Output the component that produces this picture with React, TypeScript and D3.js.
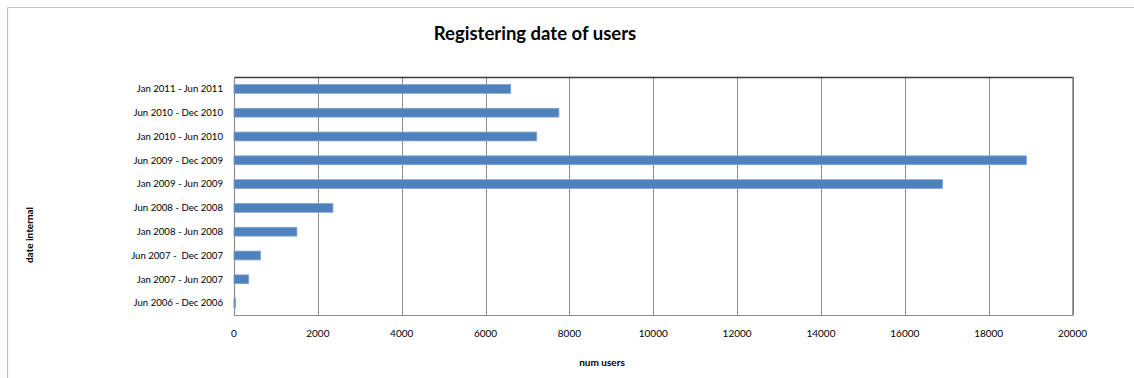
import React from "react";
import * as d3 from "d3";

const categories = [
  "Jan 2011 - Jun 2011",
  "Jun 2010 - Dec 2010",
  "Jan 2010 - Jun 2010",
  "Jun 2009 - Dec 2009",
  "Jan 2009 - Jun 2009",
  "Jun 2008 - Dec 2008",
  "Jan 2008 - Jun 2008",
  "Jun 2007 -  Dec 2007",
  "Jan 2007 - Jun 2007",
  "Jun 2006 - Dec 2006",
];
const values = [6600, 7750, 7220, 18900, 16900, 2360, 1500, 630, 350, 40];
const xTicks = [0, 2000, 4000, 6000, 8000, 10000, 12000, 14000, 16000, 18000, 20000];
const title = "Registering date of users";
const xTitle = "num users";
const yTitle = "date internal";

const W = 1134;
const H = 378;
const left = 234, right = 1072.5, top = 77, bottom = 315;
const FONT = "Lato, 'Open Sans', sans-serif";

export default function App() {
  const x = d3.scaleLinear().domain([0, 20000]).range([left, right]);
  const y = d3.scaleBand().domain(categories).range([top, bottom]).paddingInner(0.63).paddingOuter(0.315);

  return (
    <svg width={W} height={H} style={{ position: "absolute", left: 0, top: 0, background: "#fff" }}>
      <rect x={0} y={0} width={W} height={H} fill="#fff" />
      <line x1={7.5} y1={7.5} x2={W} y2={7.5} stroke="#c8c8c8" strokeWidth={1.2} />
      <line x1={7.5} y1={7.5} x2={7.5} y2={H} stroke="#c0c0c0" strokeWidth={1.2} />
      <text x={535} y={40} textAnchor="middle" fontFamily={FONT} fontWeight="bold" fontSize={18.5} fill="#000">{title}</text>
      {xTicks.map((t) => (
        <line key={"g" + t} x1={Math.round(x(t)) + 0.5} x2={Math.round(x(t)) + 0.5} y1={top} y2={bottom} stroke="#8c8c8c" strokeWidth={1} />
      ))}
      <line x1={left} x2={right + 0.5} y1={top + 0.5} y2={top + 0.5} stroke="#3a3a3a" strokeWidth={1.3} />
      <line x1={right + 0.5} x2={right + 0.5} y1={top} y2={bottom} stroke="#6a6a6a" strokeWidth={1.3} />
      <line x1={left} x2={right + 0.5} y1={bottom + 0.5} y2={bottom + 0.5} stroke="#8a8a8a" strokeWidth={1.2} />
      <line x1={left + 0.5} x2={left + 0.5} y1={top} y2={bottom} stroke="#8a8a8a" strokeWidth={1.2} />
      {categories.map((c, i) => (
        <rect key={c} x={x(0)} y={y(c)!} width={Math.max(1, x(values[i]) - x(0))} height={y.bandwidth()}
          fill="#4f81bd" stroke="#7ea3d3" strokeWidth={0.8} />
      ))}
      {categories.map((c) => (
        <text key={"l" + c} x={223} y={y(c)! + y.bandwidth() / 2} dy="0.35em" textAnchor="end" fontFamily={FONT} fontSize={9.6} fill="#000" style={{ whiteSpace: "pre" }}>{c}</text>
      ))}
      {xTicks.map((t) => (
        <text key={"t" + t} x={x(t)} y={337} textAnchor="middle" fontFamily={FONT} fontSize={10} fill="#000">{t}</text>
      ))}
      <text x={602} y={366} textAnchor="middle" fontFamily={FONT} fontWeight="bold" fontSize={10} fill="#000">{xTitle}</text>
      <text transform={`translate(33,235) rotate(-90)`} textAnchor="middle" fontFamily={FONT} fontWeight="bold" fontSize={10} fill="#000">{yTitle}</text>
    </svg>
  );
}
